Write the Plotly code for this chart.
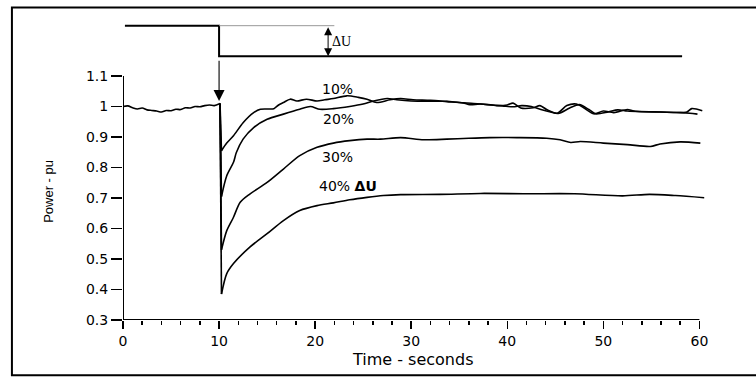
import plotly.graph_objects as go

# ---------------- data ----------------
# common pre-disturbance trace (0 .. 10 s)
t_pre = [0, 0.5, 1.0, 1.5, 2.0, 2.5, 3.0, 3.5, 4.0, 4.5, 5.0, 5.5, 6.0, 6.5, 7.0,
         7.5, 8.0, 8.5, 9.0, 9.5, 10.1]
p_pre = [1.000, 1.002, 0.996, 0.992, 0.995, 0.989, 0.987, 0.985, 0.982, 0.987,
         0.986, 0.991, 0.990, 0.996, 0.995, 1.000, 0.999, 1.003, 1.005, 1.003, 1.010]

t_10 = [10.25, 10.8, 11.5, 12.5, 13.6, 14.3, 15.0, 15.7, 16.2, 16.7, 17.4, 18.1,
        19.1, 20.2, 21.0, 21.9, 23.3, 24.5, 25.4, 26.4, 27.8, 28.9, 30.2, 32.0,
        33.7, 35.4, 36.1, 37.2, 38.9, 40.0, 40.6, 41.4, 42.7, 43.4, 44.1, 45.2,
        46.2, 47.2, 48.0, 49.0, 50.0, 51.1, 52.5, 53.2, 55.9, 58.7, 59.2, 60.3]
p_10 = [0.855, 0.880, 0.904, 0.947, 0.980, 0.991, 0.992, 0.993, 1.005, 1.013,
        1.024, 1.018, 1.024, 1.018, 1.022, 1.026, 1.035, 1.030, 1.024, 1.013,
        1.022, 1.026, 1.022, 1.020, 1.016, 1.012, 1.006, 1.008, 1.003, 1.005,
        1.011, 0.995, 0.996, 1.003, 0.990, 0.978, 1.003, 1.008, 0.995, 0.976,
        0.985, 0.980, 0.990, 0.985, 0.982, 0.982, 0.993, 0.986]

t_20 = [10.25, 10.8, 11.5, 11.8, 12.5, 13.6, 15.0, 16.7, 18.4, 19.5, 20.5, 21.9,
        23.6, 25.0, 26.1, 27.5, 28.5, 30.0, 32.0, 33.7, 35.0, 36.5, 38.0, 39.5,
        40.6, 41.5, 42.5, 43.5, 44.5, 45.3, 46.5, 47.5, 48.5, 49.2, 50.5, 51.5,
        52.5, 54.0, 56.0, 58.0, 59.0, 59.8]
p_20 = [0.705, 0.773, 0.817, 0.849, 0.893, 0.931, 0.958, 0.975, 0.991, 1.000,
        0.991, 0.993, 1.000, 1.008, 1.018, 1.026, 1.022, 1.018, 1.017, 1.017,
        1.013, 1.010, 1.006, 1.002, 0.999, 1.003, 1.000, 0.990, 0.982, 0.977,
        0.995, 1.006, 0.990, 0.976, 0.982, 0.989, 0.985, 0.983, 0.982, 0.980,
        0.978, 0.975]

t_30 = [10.25, 10.8, 11.5, 12.2, 13.2, 15.0, 16.7, 18.4, 20.2, 21.9, 23.6, 25.4,
        26.8, 28.9, 31.3, 33.7, 36.0, 38.2, 41.0, 44.1, 45.5, 46.6, 47.6, 50.0,
        52.5, 54.9, 55.9, 58.0, 60.1]
p_30 = [0.530, 0.593, 0.637, 0.686, 0.713, 0.751, 0.795, 0.839, 0.866, 0.880,
        0.888, 0.893, 0.893, 0.898, 0.891, 0.893, 0.896, 0.898, 0.898, 0.896,
        0.891, 0.882, 0.885, 0.880, 0.875, 0.869, 0.877, 0.884, 0.880]

t_40 = [10.25, 10.8, 11.5, 13.2, 15.0, 16.7, 18.4, 20.2, 21.9, 23.6, 25.4, 27.1,
        28.9, 33.0, 37.2, 42.0, 47.0, 52.0, 54.8, 57.5, 60.5]
p_40 = [0.385, 0.452, 0.485, 0.539, 0.583, 0.626, 0.659, 0.675, 0.684, 0.694,
        0.702, 0.708, 0.711, 0.712, 0.715, 0.714, 0.714, 0.707, 0.712, 0.708, 0.701]

series_names = ["10%", "20%", "30%", "40% <b>ΔU</b>"]
label_x = [22.3, 22.4, 22.3, 20.2]
label_y = [1.057, 0.960, 0.835, 0.740]

# schematic voltage step drawn above the plot
step_t = [0.2, 10.0, 10.0, 58.2]
step_u = [1.265, 1.265, 1.165, 1.165]

x_ticks = [0, 10, 20, 30, 40, 50, 60]
y_ticks = [0.3, 0.4, 0.5, 0.6, 0.7, 0.8, 0.9, 1.0, 1.1]
y_tick_text = ["0.3", "0.4", "0.5", "0.6", "0.7", "0.8", "0.9", "1", "1.1"]

# ---------------- figure ----------------
W, H = 756, 377
L, R, T, B = 123, 47.4, 14.5, 56.5
pw, ph = W - L - R, H - T - B

def px_x(p):
    return (p - L) / pw

def px_y(p):
    return (H - B - p) / ph

line_style = dict(color="black", width=1.6)
fig = go.Figure()
fig.add_trace(go.Scatter(x=t_pre, y=p_pre, mode="lines",
                         line=dict(shape="spline", smoothing=0.8, **line_style),
                         showlegend=False, hoverinfo="skip"))
for tt, pp in [(t_10, p_10), (t_20, p_20), (t_30, p_30), (t_40, p_40)]:
    # sudden drop
    fig.add_trace(go.Scatter(x=[t_pre[-1], tt[0]], y=[p_pre[-1], pp[0]], mode="lines",
                             line=line_style, showlegend=False, hoverinfo="skip"))
    # recovery
    fig.add_trace(go.Scatter(x=tt, y=pp, mode="lines",
                             line=dict(shape="spline", smoothing=0.8, **line_style),
                             showlegend=False, hoverinfo="skip"))

fig.add_trace(go.Scatter(x=step_t, y=step_u, mode="lines",
                         line=dict(color="black", width=2),
                         showlegend=False, hoverinfo="skip"))

annotations = []
for name, lx, ly in zip(series_names, label_x, label_y):
    annotations.append(dict(x=lx, y=ly, xref="x", yref="y", text=name,
                            showarrow=False,
                            xanchor="left" if "ΔU" in name else "center",
                            yanchor="middle",
                            font=dict(family="DejaVu Sans", size=14, color="black")))
# arrow marking the disturbance
annotations.append(dict(x=10.0, y=1.018, ax=10.0, ay=1.155, xref="x", yref="y",
                        axref="x", ayref="y", text="", showarrow=True,
                        arrowhead=2, arrowsize=2, arrowwidth=1.1,
                        arrowcolor="black", standoff=0))
# double arrow for ΔU
annotations.append(dict(x=21.35, y=1.165, ax=21.35, ay=1.265, xref="x", yref="y",
                        axref="x", ayref="y", text="", showarrow=True,
                        arrowhead=2, startarrowhead=2, arrowside="end+start",
                        arrowsize=1.6, startarrowsize=1.6, arrowwidth=1,
                        arrowcolor="black", standoff=0, startstandoff=0))
annotations.append(dict(x=21.55, y=1.214, xref="x", yref="y", text="ΔU",
                        showarrow=False, xanchor="left", yanchor="middle",
                        font=dict(family="Liberation Serif", size=14, color="black")))
# axis titles
annotations.append(dict(x=px_x(49), y=px_y(191), xref="paper", yref="paper",
                        text="Power - pu", textangle=-90, showarrow=False,
                        xanchor="center", yanchor="middle",
                        font=dict(family="Liberation Sans", size=13, color="black")))
annotations.append(dict(x=px_x(413), y=px_y(360), xref="paper", yref="paper",
                        text="Time - seconds", showarrow=False,
                        xanchor="center", yanchor="middle",
                        font=dict(family="DejaVu Sans", size=16, color="black")))

shapes = [
    # axis lines
    dict(type="line", xref="x", yref="y", x0=0, x1=0, y0=0.3, y1=1.1,
         line=dict(color="black", width=2), layer="above"),
    dict(type="line", xref="x", yref="y", x0=0, x1=60, y0=0.3, y1=0.3,
         line=dict(color="black", width=2), layer="above"),
    # thin grey reference line at the pre-step level
    dict(type="line", xref="x", yref="y", x0=10, x1=22, y0=1.265, y1=1.265,
         line=dict(color="#999999", width=1)),
    # outer frame
    dict(type="rect", xref="paper", yref="paper",
         x0=px_x(12), x1=px_x(762), y0=px_y(376), y1=px_y(7),
         line=dict(color="black", width=2)),
]

fig.update_layout(
    width=W, height=H,
    margin=dict(l=L, r=R, t=T, b=B, pad=0, autoexpand=False),
    paper_bgcolor="white", plot_bgcolor="white",
    font=dict(family="DejaVu Sans", color="black"),
    annotations=annotations, shapes=shapes,
    xaxis=dict(range=[0, 61], showline=False, showgrid=False, zeroline=False,
               tickmode="array", tickvals=x_ticks, ticks="outside", ticklen=8,
               tickwidth=1.5, tickcolor="black",
               tickfont=dict(family="DejaVu Sans", size=14, color="black"),
               minor=dict(tickmode="linear", tick0=0, dtick=2, ticks="outside",
                          ticklen=4, tickwidth=1.5, tickcolor="black",
                          showgrid=False)),
    yaxis=dict(range=[0.3, 1.3], showline=False, showgrid=False, zeroline=False,
               tickmode="array", tickvals=y_ticks, ticktext=y_tick_text,
               ticks="outside", ticklen=11, tickwidth=1.5, tickcolor="black",
               tickfont=dict(family="DejaVu Sans", size=14, color="black")),
)

fig.write_html("out.html",
               config={"displayModeBar": False, "staticPlot": True},
               post_script="document.body.style.margin='0';document.body.style.overflow='hidden';")
